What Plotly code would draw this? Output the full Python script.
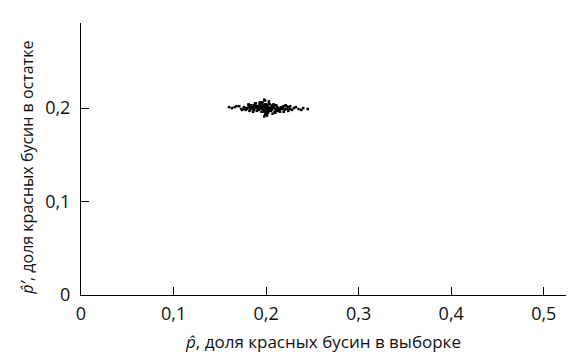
import plotly.graph_objects as go

# sample proportion (x) and remainder proportion (y)
p_sample = [
    0.200, 0.187, 0.213, 0.195, 0.206, 0.181, 0.219, 0.199, 0.192, 0.208,
    0.203, 0.176, 0.224, 0.197, 0.189, 0.211, 0.201, 0.194, 0.215, 0.185,
    0.198, 0.207, 0.183, 0.221, 0.196, 0.204, 0.190, 0.212, 0.200, 0.178,
    0.209, 0.193, 0.217, 0.186, 0.202, 0.199, 0.230, 0.171, 0.205, 0.195,
    0.188, 0.214, 0.201, 0.197, 0.226, 0.182, 0.206, 0.191, 0.210, 0.199,
    0.166, 0.203, 0.194, 0.218, 0.187, 0.208, 0.200, 0.179, 0.222, 0.196,
    0.212, 0.184, 0.205, 0.193, 0.198, 0.235, 0.174, 0.202, 0.216, 0.189,
    0.207, 0.195, 0.201, 0.181, 0.220, 0.197, 0.204, 0.192, 0.213, 0.199,
    0.160, 0.240, 0.186, 0.209, 0.200, 0.196, 0.228, 0.177, 0.203, 0.194,
    0.211, 0.188, 0.205, 0.199, 0.219, 0.183, 0.201, 0.197, 0.214, 0.190,
    0.245, 0.168, 0.206, 0.193, 0.200, 0.224, 0.180, 0.202, 0.196, 0.210,
    0.185, 0.217, 0.198, 0.204, 0.191, 0.232, 0.173, 0.207, 0.195, 0.201,
    0.212, 0.187, 0.199, 0.221, 0.182, 0.203, 0.194, 0.209, 0.200, 0.176,
    0.163, 0.238, 0.197, 0.215, 0.189, 0.205, 0.198, 0.226, 0.179, 0.202,
    0.208, 0.192, 0.201, 0.218, 0.186, 0.196, 0.211, 0.200, 0.184, 0.223,
]
p_remain = [
    0.200, 0.203, 0.197, 0.201, 0.199, 0.204, 0.196, 0.202, 0.198, 0.200,
    0.205, 0.199, 0.201, 0.196, 0.202, 0.203, 0.197, 0.200, 0.199, 0.201,
    0.198, 0.194, 0.200, 0.203, 0.206, 0.199, 0.197, 0.201, 0.202, 0.198,
    0.200, 0.204, 0.199, 0.196, 0.201, 0.193, 0.200, 0.202, 0.197, 0.205,
    0.201, 0.198, 0.203, 0.200, 0.199, 0.197, 0.202, 0.200, 0.195, 0.208,
    0.201, 0.199, 0.203, 0.200, 0.198, 0.204, 0.196, 0.200, 0.202, 0.199,
    0.197, 0.201, 0.200, 0.206, 0.203, 0.199, 0.198, 0.195, 0.201, 0.200,
    0.202, 0.199, 0.192, 0.203, 0.198, 0.201, 0.204, 0.199, 0.200, 0.197,
    0.201, 0.200, 0.199, 0.196, 0.203, 0.201, 0.198, 0.200, 0.207, 0.202,
    0.199, 0.205, 0.200, 0.196, 0.202, 0.198, 0.203, 0.200, 0.199, 0.201,
    0.199, 0.202, 0.198, 0.201, 0.204, 0.197, 0.200, 0.195, 0.203, 0.199,
    0.201, 0.200, 0.209, 0.198, 0.202, 0.201, 0.199, 0.203, 0.196, 0.200,
    0.198, 0.201, 0.204, 0.199, 0.202, 0.197, 0.200, 0.203, 0.194, 0.201,
    0.200, 0.198, 0.202, 0.196, 0.205, 0.200, 0.191, 0.202, 0.199, 0.201,
    0.203, 0.199, 0.198, 0.201, 0.200, 0.206, 0.197, 0.202, 0.203, 0.199,
]

x_tickvals = [0, 0.1, 0.2, 0.3, 0.4, 0.5]
x_ticktext = ["0", "0,1", "0,2", "0,3", "0,4", "0,5"]
y_tickvals = [0, 0.1, 0.2]
y_ticktext = ["0", "0,1", "0,2"]

x_title = "<i>p̂</i>, доля красных бусин в выборке"
y_title = "<i>p̂′</i>, доля красных бусин в остатке"

font = dict(family="Open Sans, Noto Sans, sans-serif", size=17, color="#111111")
ytitle_font = dict(family="Open Sans, Noto Sans, sans-serif", size=16, color="#111111")
tick_font = dict(family="Open Sans, Noto Sans, sans-serif", size=18, color="#111111")

fig = go.Figure(
    go.Scatter(
        x=p_sample, y=p_remain, mode="markers",
        marker=dict(symbol="square", size=2.5, color="black", line=dict(width=0)),
        hoverinfo="skip",
    )
)

axis_common = dict(
    showgrid=False, zeroline=False, showline=True, linecolor="black", linewidth=1,
    ticks="inside", ticklen=8, tickcolor="black", tickwidth=1,
    tickfont=tick_font, title_font=font, tickmode="array",
)

fig.update_layout(
    width=580, height=360,
    margin=dict(l=81, r=14, t=23, b=65),
    paper_bgcolor="white", plot_bgcolor="white",
    showlegend=False,
    font=font,
    xaxis=dict(axis_common, range=[0, 0.524], tickvals=x_tickvals, ticktext=x_ticktext,
               title=dict(text=x_title, standoff=12), ticklabelstandoff=2),
    yaxis=dict(axis_common, range=[0, 0.291], tickvals=y_tickvals, ticktext=y_ticktext,
               ticklabelstandoff=6),
    annotations=[dict(
        text=y_title, xref="paper", yref="paper", x=-0.112, y=0.467,
        xanchor="center", yanchor="middle", textangle=-90, showarrow=False, font=ytitle_font,
    )],
)

fig.write_html("out.html")
